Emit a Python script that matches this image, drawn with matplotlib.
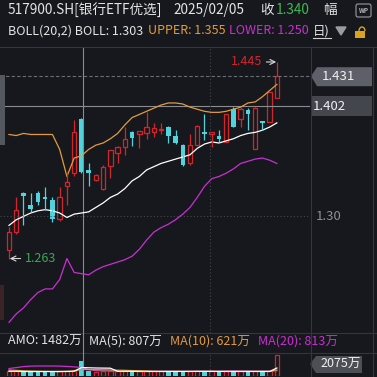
import matplotlib
matplotlib.use("Agg")
import matplotlib.pyplot as plt
import matplotlib.patches as patches
from matplotlib.lines import Line2D
import numpy as np

plt.rcParams['font.family'] = ['Noto Sans CJK SC', 'DejaVu Sans']

# daily candles, 517900.SH
opens = [1.270, 1.286, 1.321, 1.310, 1.321, 1.317, 1.315, 1.298, 1.327, 1.339,
         1.390, 1.342, 1.333, 1.325, 1.346, 1.358, 1.363, 1.377, 1.375, 1.376,
         1.377, 1.379, 1.382, 1.374, 1.365, 1.348, 1.365, 1.377, 1.375, 1.374,
         1.368, 1.399, 1.390, 1.398, 1.361, 1.388, 1.387, 1.410]
highs = [1.291, 1.317, 1.322, 1.321, 1.323, 1.326, 1.317, 1.326, 1.340, 1.389,
         1.391, 1.348, 1.338, 1.347, 1.360, 1.364, 1.382, 1.378, 1.378, 1.396,
         1.386, 1.386, 1.383, 1.379, 1.366, 1.375, 1.384, 1.394, 1.377, 1.379,
         1.394, 1.401, 1.401, 1.400, 1.401, 1.388, 1.416, 1.445]
lows = [1.263, 1.284, 1.292, 1.304, 1.310, 1.306, 1.295, 1.296, 1.310, 1.336,
        1.339, 1.327, 1.332, 1.324, 1.335, 1.348, 1.356, 1.364, 1.362, 1.371,
        1.373, 1.375, 1.367, 1.366, 1.346, 1.347, 1.365, 1.370, 1.363, 1.368,
        1.368, 1.382, 1.382, 1.379, 1.361, 1.379, 1.387, 1.410]
closes = [1.286, 1.306, 1.318, 1.307, 1.313, 1.316, 1.298, 1.317, 1.331, 1.377,
          1.340, 1.339, 1.337, 1.345, 1.360, 1.363, 1.371, 1.372, 1.378, 1.382,
          1.381, 1.380, 1.374, 1.367, 1.347, 1.365, 1.383, 1.375, 1.377, 1.371,
          1.394, 1.382, 1.399, 1.394, 1.400, 1.386, 1.416, 1.431]

# BOLL(20,2)
boll_upper = [1.375, 1.374, 1.376, 1.375, 1.375, 1.375, 1.375, 1.361, 1.336, 1.353,
              1.355, 1.361, 1.365, 1.367, 1.371, 1.376, 1.384, 1.391, 1.394, 1.397,
              1.400, 1.403, 1.405, 1.405, 1.404, 1.401, 1.399, 1.397, 1.396, 1.396,
              1.397, 1.399, 1.401, 1.405, 1.406, 1.411, 1.417, 1.423]
boll_mid = [1.292, 1.297, 1.300, 1.303, 1.305, 1.306, 1.305, 1.303, 1.299, 1.302,
            1.303, 1.304, 1.308, 1.312, 1.317, 1.320, 1.325, 1.332, 1.336, 1.342,
            1.345, 1.348, 1.350, 1.352, 1.354, 1.356, 1.362, 1.366, 1.368, 1.367,
            1.369, 1.371, 1.374, 1.376, 1.377, 1.379, 1.382, 1.386]
boll_lower = [1.209, 1.216, 1.221, 1.228, 1.234, 1.237, 1.237, 1.245, 1.263, 1.251,
              1.250, 1.249, 1.253, 1.256, 1.258, 1.260, 1.262, 1.265, 1.271, 1.279,
              1.286, 1.290, 1.293, 1.297, 1.302, 1.308, 1.317, 1.327, 1.334, 1.336,
              1.339, 1.343, 1.348, 1.350, 1.352, 1.353, 1.351, 1.348]

# turnover (万)
amo = [430, 410, 380, 400, 390, 420, 380, 420, 450, 520,
       1482, 430, 400, 420, 450, 430, 440, 400, 420, 410,
       420, 430, 410, 400, 420, 430, 440, 400, 430, 380,
       420, 410, 430, 400, 430, 390, 420, 2075]
amo_ma5 = [430, 420, 400, 400, 400, 400, 400, 400, 410, 430,
           807, 780, 760, 750, 740, 420, 420, 420, 410, 410,
           410, 410, 410, 410, 410, 410, 420, 420, 420, 410,
           410, 410, 410, 410, 410, 410, 410, 760]
amo_ma10 = [550, 520, 480, 450, 430, 420, 410, 410, 420, 450,
            621, 600, 590, 580, 560, 540, 520, 500, 480, 460,
            430, 420, 420, 420, 420, 420, 420, 420, 420, 420,
            420, 420, 420, 420, 420, 420, 420, 560]
amo_ma20 = [700, 800, 900, 950, 960, 960, 960, 950, 920, 870,
            813, 600, 500, 460, 450, 440, 440, 430, 430, 420,
            420, 420, 420, 420, 420, 420, 420, 420, 420, 430,
            450, 460, 450, 440, 430, 430, 430, 480]

cross_idx = 10
last_price = 1.431
cross_price = 1.402
grid_price = 1.30

BG = '#17181d'
RED = '#d4252c'
CYAN = '#4fd3dc'
ORANGE = '#e39b3b'
MAGENTA = '#c92fd2'
GREEN = '#3aa856'
GRID = '#44464c'
W, H = 377, 377


def fx(px):
    return px / W


def fy(py):
    return 1 - py / H


fig = plt.figure(figsize=(3.77, 3.77), dpi=100, facecolor=BG)

x = np.arange(len(closes))
xlim = (-9 / 7.24, -9 / 7.24 + 310 / 7.24)

# ---- price panel
ax = fig.add_axes([0, fy(333), fx(310), (333 - 47) / H])
ax.set_facecolor(BG)
ax.set_yscale('log')
ax.set_xlim(*xlim)
ax.set_ylim(1.2002, 1.4599)
ax.axis('off')

ax.axhline(grid_price, color=GRID, lw=0.8, ls=(0, (1, 2)))
ax.axhline(last_price, color='#6c6e75', lw=0.8, ls=(0, (3, 2)))
ax.axhline(cross_price, color='#8a8c92', lw=0.8)
ax.axvline(cross_idx + 0.25, color='#8a8c92', lw=0.8)
ax.axvline(27.75, color=GRID, lw=0.8, ls=(0, (1, 2)))

ax.plot(x, boll_upper, color=ORANGE, lw=0.9)
ax.plot(x, boll_mid, color='white', lw=0.9)
ax.plot(x, boll_lower, color=MAGENTA, lw=0.9)

for i in range(len(closes)):
    o, h, l, c = opens[i], highs[i], lows[i], closes[i]
    lo, hi = min(o, c), max(o, c)
    if hi - lo < 0.0008:
        hi = lo + 0.0008
    if c >= o:
        ax.vlines(i, hi, h, color=RED, lw=0.9)
        ax.vlines(i, l, lo, color=RED, lw=0.9)
        ax.bar(i, hi - lo, bottom=lo, width=0.62, facecolor=BG, edgecolor=RED, lw=0.9)
    else:
        ax.vlines(i, l, h, color=CYAN, lw=0.9)
        ax.bar(i, hi - lo, bottom=lo, width=0.62, color=CYAN, lw=0)

ax.annotate('1.445', xy=(len(closes) - 1 - 0.1, max(highs)), xytext=(-14, 0),
            textcoords='offset pixels', ha='right', va='center', color=RED, fontsize=9,
            arrowprops=dict(arrowstyle='->', color='#d8d8d8', lw=0.8, shrinkA=1, shrinkB=0))
ax.annotate('1.263', xy=(0.1, min(lows)), xytext=(15, 0),
            textcoords='offset pixels', ha='left', va='center', color=GREEN, fontsize=9,
            arrowprops=dict(arrowstyle='->', color='#d8d8d8', lw=0.8, shrinkA=1, shrinkB=0))

# ---- turnover panel
av = fig.add_axes([0, fy(375.5), fx(310), (375.5 - 353) / H])
av.set_facecolor(BG)
av.set_xlim(*xlim)
av.set_ylim(0, 2277)
av.axis('off')
av.axvline(cross_idx + 0.25, color='#8a8c92', lw=0.8)
av.axvline(27.75, color=GRID, lw=0.8, ls=(0, (1, 2)))
for i in range(len(amo)):
    if closes[i] >= opens[i]:
        av.bar(i, amo[i], width=0.62, facecolor=BG, edgecolor=RED, lw=0.9)
    else:
        av.bar(i, amo[i], width=0.62, color=CYAN, lw=0)
av.plot(x, amo_ma20, color=MAGENTA, lw=0.9)
av.plot(x, amo_ma10, color=ORANGE, lw=0.9)
av.plot(x, amo_ma5, color='white', lw=0.9)

# ---- frame lines
def hline(py, x0, x1, color='#34363c'):
    fig.add_artist(Line2D([fx(x0), fx(x1)], [fy(py), fy(py)], color=color, lw=0.8))


def vline(px, y0, y1, color='#34363c'):
    fig.add_artist(Line2D([fx(px), fx(px)], [fy(y0), fy(y1)], color=color, lw=0.8))


hline(47, 0, 377)
hline(333, 0, 377)
hline(353, 0, 377)
vline(310.5, 47, 377)
vline(373, 47, 377)
vline(83.3, 333, 353, '#8a8c92')
fig.add_artist(patches.Rectangle((0, fy(145)), fx(4.5), 70 / H, transform=fig.transFigure,
                                 color='#55575e', lw=0))
fig.add_artist(patches.Rectangle((0, fy(320)), fx(4), 35 / H, transform=fig.transFigure,
                                 color='#3a2428', lw=0))

# ---- header texts
def txt(px, py, s, color='#e4e4e4', size=9.8, **kw):
    fig.text(fx(px), fy(py), s, color=color, fontsize=size, va='center', ha='left', **kw)


txt(8, 10, '517900.SH[银行ETF优选]')
txt(173, 10, '2025/02/05')
txt(260, 10, '收')
txt(276, 10, '1.340', color='#3db950')
txt(323, 10, '幅')
fig.add_artist(patches.FancyBboxPatch((fx(356), fy(17)), fx(15), 13 / H,
                                      boxstyle='round,pad=0,rounding_size=0.005',
                                      transform=fig.transFigure, fc='none', ec='#9a9ca2', lw=0.8))
fig.text(fx(363.5), fy(10.5), 'WP', color='#b0b2b8', fontsize=4.5, ha='center', va='center',
         fontweight='bold')

txt(8, 31, 'BOLL(20,2) BOLL: 1.303', size=9)
txt(148, 31, 'UPPER: 1.355', color=ORANGE, size=9)
txt(229, 31, 'LOWER: 1.250', color=MAGENTA, size=9)
txt(313, 31, '日)', size=9)
hline(38, 313, 331, '#d0d0d0')
fig.add_artist(patches.Polygon([(fx(336), fy(27)), (fx(346), fy(27)), (fx(341), fy(35))],
                               closed=True, transform=fig.transFigure, color='#9a9ca2'))
fig.add_artist(patches.Rectangle((fx(355), fy(38)), fx(10), 7 / H, transform=fig.transFigure,
                                 color='#d9a320', lw=0))
fig.add_artist(patches.Arc((fx(362), fy(31)), fx(6), 8 / H, theta1=0, theta2=180,
                           transform=fig.transFigure, color='#d9a320', lw=1.0))

txt(8, 341, 'AMO: 1482万', size=9)
txt(89, 341, 'MA(5): 807万', size=9)
txt(170, 341, 'MA(10): 621万', color=ORANGE, size=9)
txt(258, 341, 'MA(20): 813万', color=MAGENTA, size=9)

# ---- right axis labels
fig.text(fx(316), ax.transData.transform((0, grid_price))[1] / 377, '1.30', color='#8e9098',
         fontsize=9.5, va='center', ha='left')

yl = H - ax.transData.transform((0, last_price))[1] / 377 * H
fig.add_artist(patches.Polygon([(fx(311), fy(yl)), (fx(317), fy(yl - 9)), (fx(372), fy(yl - 9)),
                                (fx(372), fy(yl + 10)), (fx(317), fy(yl + 10))],
                               closed=True, transform=fig.transFigure, color='#5d6069', lw=0))
txt(322, yl, f'{last_price:.3f}', color='#f0f0f0', size=9.5)

yc = H - ax.transData.transform((0, cross_price))[1] / 377 * H
fig.add_artist(patches.Rectangle((fx(311), fy(yc + 10)), fx(61), 20 / H,
                                 transform=fig.transFigure, color='#44464d', lw=0))
txt(313, yc, f'{cross_price:.3f}', color='#f0f0f0', size=9.5)

yv = 364
fig.add_artist(patches.Polygon([(fx(310), fy(yv)), (fx(316), fy(yv - 8)), (fx(362), fy(yv - 8)),
                                (fx(362), fy(yv + 9)), (fx(316), fy(yv + 9))],
                               closed=True, transform=fig.transFigure, color='#4d4f56', lw=0))
txt(320, yv, f'{amo[-1]}万', color='#f0f0f0', size=9)

fig.savefig('out.png', dpi=100, facecolor=BG)
